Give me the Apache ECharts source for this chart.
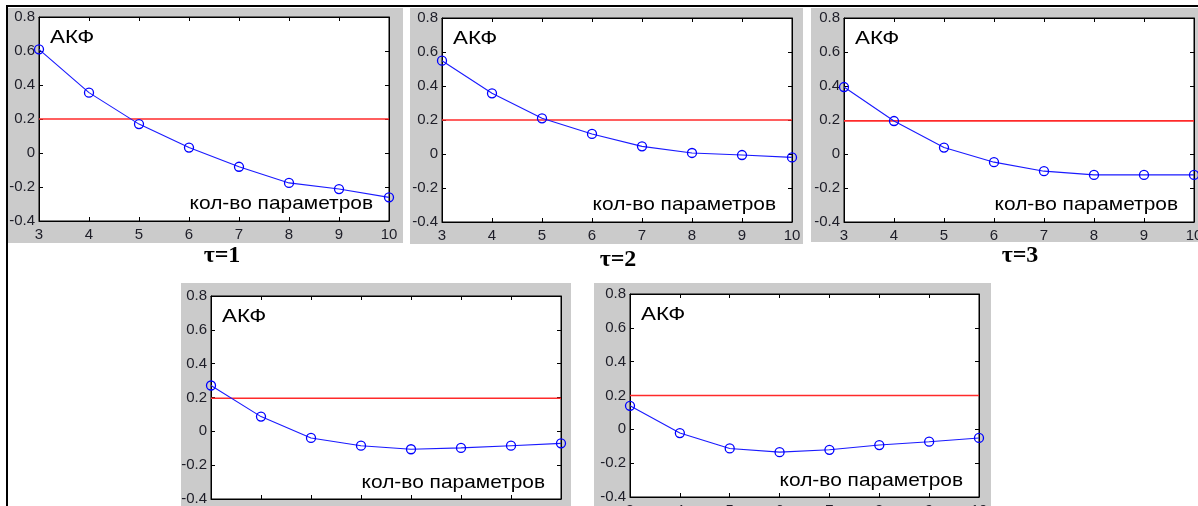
<!DOCTYPE html>
<html><head><meta charset="utf-8">
<script src="https://cdn.jsdelivr.net/npm/echarts@6/dist/echarts.min.js"></script>
<style>html,body{margin:0;padding:0;background:#fff;overflow:hidden}#c{width:1198px;height:506px}</style>
</head><body><div id="c"></div>
<script>
// ---- data ----
const paramCounts = [3, 4, 5, 6, 7, 8, 9, 10];
const xTickLabels = ['3', '4', '5', '6', '7', '8', '9', '10'];
const yTickValues = [-0.4, -0.2, 0, 0.2, 0.4, 0.6, 0.8];
const yTickLabels = ['-0.4', '-0.2', '0', '0.2', '0.4', '0.6', '0.8'];
const acfTau1 = [0.61, 0.355, 0.17, 0.032, -0.081, -0.176, -0.212, -0.261];
const acfTau2 = [0.549, 0.357, 0.21, 0.118, 0.045, 0.006, -0.006, -0.02];
const acfTau3 = [0.394, 0.194, 0.038, -0.048, -0.101, -0.123, -0.123, -0.123];
const acfTau4 = [0.271, 0.087, -0.039, -0.085, -0.106, -0.098, -0.085, -0.071];
const acfTau5 = [0.139, -0.022, -0.113, -0.135, -0.121, -0.093, -0.073, -0.051];
const thresholds = [0.2, 0.2, 0.195, 0.196, 0.2];
const panelTitles = ['τ=1', 'τ=2', 'τ=3', '', ''];
const yTitle = 'АКФ';
const xTitle = 'кол-во параметров';

// ---- layout ----
const series = [acfTau1, acfTau2, acfTau3, acfTau4, acfTau5];
const panels = [
  {grid: [39, 17, 350, 204], bg: [8, 8, 395, 235], tau: [222, 256]},
  {grid: [442, 18, 350, 204], bg: [410, 8, 393, 236], tau: [618, 260]},
  {grid: [844, 18, 350, 204], bg: [811, 8, 387, 234], tau: [1020, 256]},
  {grid: [211, 296, 350, 203], bg: [181, 283, 390, 223], tau: null},
  {grid: [630, 294, 349, 203], bg: [594, 283, 397, 223], tau: null}
];
const FONT = '"Liberation Sans", Arial, sans-serif';
const labelColor = '#1e1e28';

const grids = [], xAxes = [], yAxes = [], seriesOpt = [], graphics = [];
panels.forEach((p, i) => {
  const [l, t, w, h] = p.grid;
  grids.push({left: l, top: t, width: w, height: h, show: true, backgroundColor: '#fff',
    borderColor: '#000', borderWidth: 1, containLabel: false, outerBoundsMode: 'none'});
  const xBase = {gridIndex: i, type: 'value', min: 3, max: 10, interval: 1,
    axisLine: {show: true, onZero: false, lineStyle: {color: '#000', width: 1}},
    axisTick: {show: true, inside: true, length: 4, lineStyle: {color: '#000'}},
    splitLine: {show: false}};
  xAxes.push(Object.assign({}, xBase, {position: 'bottom',
    axisLabel: {show: true, margin: 6, color: labelColor, fontSize: 15, fontFamily: FONT,
      formatter: v => { const k = paramCounts.indexOf(Math.round(v)); return k >= 0 ? xTickLabels[k] : ''; }}}));
  xAxes.push(Object.assign({}, xBase, {position: 'top', axisLabel: {show: false}}));
  const yBase = {gridIndex: i, type: 'value', min: -0.4, max: 0.8, interval: 0.2,
    axisLine: {show: true, onZero: false, lineStyle: {color: '#000', width: 1}},
    axisTick: {show: true, inside: true, length: 4, lineStyle: {color: '#000'}},
    splitLine: {show: false}};
  yAxes.push(Object.assign({}, yBase, {position: 'left',
    axisLabel: {show: true, margin: 4, color: labelColor, fontSize: 15, fontFamily: FONT,
      formatter: v => { let best = 0; yTickValues.forEach((tv, k) => { if (Math.abs(tv - v) < Math.abs(yTickValues[best] - v)) best = k; }); return yTickLabels[best]; }}}));
  yAxes.push(Object.assign({}, yBase, {position: 'right', axisLabel: {show: false}}));

  // threshold line (red), spans the whole x range
  seriesOpt.push({
    type: 'line', xAxisIndex: 2 * i, yAxisIndex: 2 * i,
    data: [[paramCounts[0], thresholds[i]], [paramCounts[paramCounts.length - 1], thresholds[i]]],
    symbol: 'none', silent: true,
    lineStyle: {color: '#ff2a2a', width: 1.6}, z: 3
  });
  seriesOpt.push({
    type: 'line', xAxisIndex: 2 * i, yAxisIndex: 2 * i,
    data: paramCounts.map((x, k) => [x, series[i][k]]),
    symbol: 'circle', symbolSize: 9, clip: false,
    lineStyle: {color: '#1a1aff', width: 1.1},
    itemStyle: {color: 'rgba(255,255,255,0)', borderColor: '#0000ff', borderWidth: 1.3},
    z: 5
  });

  graphics.push({type: 'rect', z: -10, shape: {x: p.bg[0], y: p.bg[1], width: p.bg[2], height: p.bg[3]},
    style: {fill: '#cbcbcb'}});
  graphics.push({type: 'text', z: 100, x: l + 11, y: t + 21, scaleX: 1.18,
    style: {text: yTitle, font: '19px ' + FONT, fill: '#000', align: 'left', verticalAlign: 'middle'}});
  graphics.push({type: 'text', z: 100, x: l + w - 16, y: t + 187, scaleX: 1.1,
    style: {text: xTitle, font: '19px ' + FONT, fill: '#000', align: 'right', verticalAlign: 'middle'}});
  if (p.tau && panelTitles[i]) {
    graphics.push({type: 'text', z: 100, x: p.tau[0], y: p.tau[1],
      style: {text: panelTitles[i], font: 'bold 24px "Liberation Serif", "Times New Roman", serif',
        fill: '#000', align: 'center', verticalAlign: 'middle'}});
  }
});
// page frame lines
graphics.push({type: 'rect', z: 50, shape: {x: 6, y: 5, width: 1192, height: 2}, style: {fill: '#000'}});
graphics.push({type: 'rect', z: 50, shape: {x: 6, y: 5, width: 2, height: 501}, style: {fill: '#000'}});

const chart = echarts.init(document.getElementById('c'), null, {renderer: 'canvas'});
chart.setOption({
  animation: false,
  backgroundColor: '#fff',
  grid: grids, xAxis: xAxes, yAxis: yAxes, series: seriesOpt,
  graphic: {elements: graphics}
});
</script>
</body></html>
